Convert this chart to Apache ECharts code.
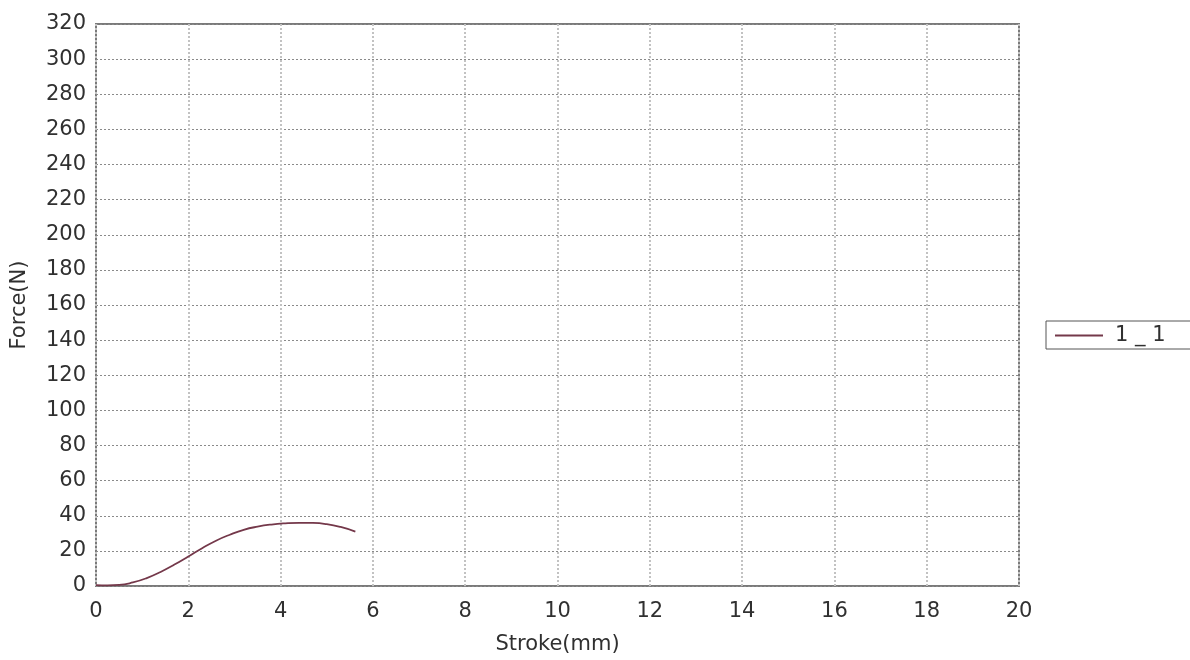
<!DOCTYPE html>
<html>
<head>
<meta charset="utf-8">
<script src="https://cdn.jsdelivr.net/npm/echarts@6/dist/echarts.min.js"></script>
<style>
  html, body { margin: 0; padding: 0; background: #fff; }
  #chart { width: 1190px; height: 660px; }
</style>
</head>
<body>
<div id="chart"></div>
<script>
// Force vs. stroke curve for specimen 1 _ 1
const seriesName = '1 _ 1';
const strokeMm = [0, 0.25, 0.5, 0.8, 1.1, 1.4, 1.7, 2.0, 2.3, 2.6, 2.9, 3.2, 3.5, 3.8, 4.1, 4.4, 4.7, 5.0, 5.3, 5.62];
const forceN   = [0.5, 0.4, 0.6, 2.0, 4.5, 8.0, 12.2, 16.8, 21.5, 25.8, 29.2, 32.0, 33.8, 35.0, 35.7, 36.0, 35.9, 35.2, 33.6, 31.0];

const xMin = 0, xMax = 20, xStep = 2;
const yMin = 0, yMax = 320, yStep = 20;

const points = strokeMm.map((x, i) => [x, forceN[i]]);

const chart = echarts.init(document.getElementById('chart'));
const font = '"DejaVu Sans", "Liberation Sans", sans-serif';
const textColor = '#303030';
const fontSize = 21;

chart.setOption({
  animation: false,
  backgroundColor: '#ffffff',
  grid: {
    left: 96, right: 171, top: 24, bottom: 74,
    containLabel: false, outerBoundsMode: 'none',
    show: true, borderColor: '#7a7a7a', borderWidth: 2, backgroundColor: '#ffffff'
  },
  legend: {
    left: 1046, top: 321,
    orient: 'vertical',
    data: [{ name: seriesName, icon: 'path://M0,0 L1,0 L1,0.04 L0,0.04 Z' }],
    itemWidth: 48, itemHeight: 14, itemGap: 0,
    padding: [4, 40, 3, 9],
    borderColor: '#555555', borderWidth: 1,
    textStyle: { fontFamily: font, fontSize: fontSize, color: textColor, padding: [0, 0, 0, 7] }
  },
  xAxis: {
    type: 'value', min: xMin, max: xMax, interval: xStep,
    name: 'Stroke(mm)', nameLocation: 'middle', nameGap: 48,
    nameTextStyle: { fontFamily: font, fontSize: fontSize, color: textColor },
    axisLine: { show: false },
    axisTick: { show: false },
    axisLabel: { fontFamily: font, fontSize: fontSize, color: textColor, margin: 15 },
    splitLine: { show: true, lineStyle: { color: '#c2c2c2', type: [2, 2], width: 2 } }
  },
  yAxis: {
    type: 'value', min: yMin, max: yMax, interval: yStep,
    name: 'Force(N)', nameLocation: 'middle', nameGap: 66, nameRotate: 90,
    nameTextStyle: { fontFamily: font, fontSize: fontSize, color: textColor },
    axisLine: { show: false },
    axisTick: { show: false },
    axisLabel: { fontFamily: font, fontSize: fontSize, color: textColor, margin: 10 },
    splitLine: { show: true, lineStyle: { color: '#8a8a8a', type: [2, 2], width: 1 } }
  },
  series: [{
    name: seriesName,
    type: 'line',
    data: points,
    smooth: true,
    showSymbol: false,
    lineStyle: { color: '#74384a', width: 1.8 },
    itemStyle: { color: '#74384a' }
  }]
});
</script>
</body>
</html>
